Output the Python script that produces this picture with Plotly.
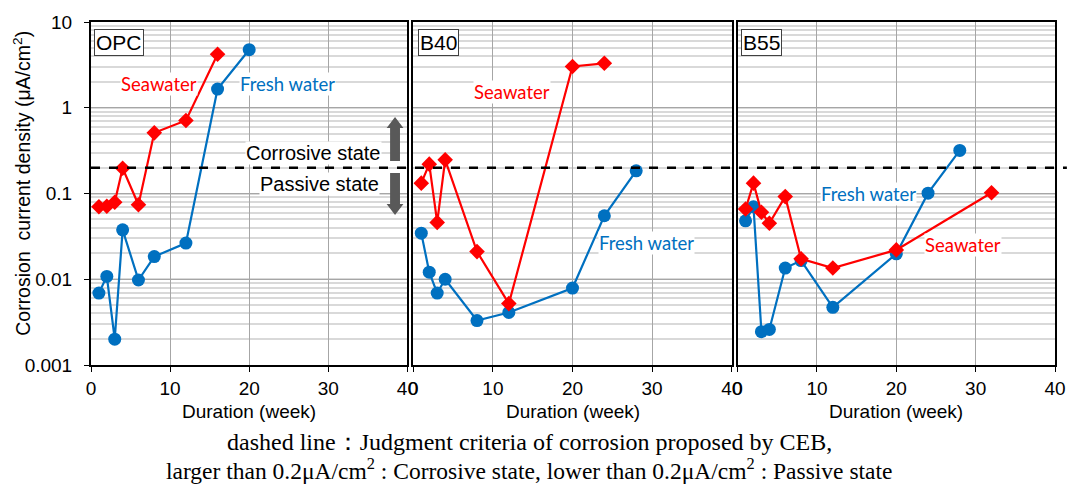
import math
import plotly.graph_objects as go
from plotly.subplots import make_subplots

# ---------------- data ----------------
panels = ["OPC", "B40", "B55"]

opc_sea_x = [1, 2, 3, 4, 6, 8, 12, 16]
opc_sea_y = [0.070, 0.071, 0.079, 0.197, 0.074, 0.51, 0.71, 4.2]
opc_fresh_x = [1, 2, 3, 4, 6, 8, 12, 16, 20]
opc_fresh_y = [0.0069, 0.0108, 0.0020, 0.0377, 0.0098, 0.0184, 0.0264, 1.65, 4.75]

b40_sea_x = [1, 2, 3, 4, 8, 12, 20, 24]
b40_sea_y = [0.132, 0.22, 0.046, 0.247, 0.021, 0.0052, 3.03, 3.3]
b40_fresh_x = [1, 2, 3, 4, 8, 12, 20, 24, 28]
b40_fresh_y = [0.0345, 0.0121, 0.0069, 0.0100, 0.0033, 0.0041, 0.0079, 0.055, 0.184]

b55_sea_x = [1, 2, 3, 4, 6, 8, 12, 20, 32]
b55_sea_y = [0.066, 0.132, 0.0605, 0.045, 0.092, 0.0173, 0.0135, 0.022, 0.102]
b55_fresh_x = [1, 2, 3, 4, 6, 8, 12, 20, 24, 28]
b55_fresh_y = [0.048, 0.070, 0.00245, 0.0026, 0.0135, 0.0165, 0.0047, 0.0198, 0.101, 0.318]

threshold = 0.2
x_ticks = [0, 10, 20, 30, 40]
y_tickvals = [0.001, 0.01, 0.1, 1, 10]
y_ticktext = ["0.001", "0.01", "0.1", "1", "10"]

SEA = "#FF0000"
FRESH = "#0070C0"

# ---------------- layout helpers ----------------
W, H = 1078, 484
L, R, T, B = 91, 12, 22, 119
PW = W - L - R
PH = H - T - B


def px(x):
    return (x - L) / PW


def py(y):
    return (H - B - y) / PH


fig = make_subplots(rows=1, cols=3, shared_yaxes=False, horizontal_spacing=0)

domains = [[px(91), px(411)], [px(417), px(739)], [px(745), px(1066)]]

series = [
    (opc_sea_x, opc_sea_y, opc_fresh_x, opc_fresh_y),
    (b40_sea_x, b40_sea_y, b40_fresh_x, b40_fresh_y),
    (b55_sea_x, b55_sea_y, b55_fresh_x, b55_fresh_y),
]

for i, (sx, sy, fx, fy) in enumerate(series):
    col = i + 1
    fig.add_trace(go.Scatter(x=fx, y=fy, mode="lines+markers",
                             line=dict(color=FRESH, width=2.2),
                             marker=dict(symbol="circle", size=13, color=FRESH),
                             showlegend=False), row=1, col=col)
    fig.add_trace(go.Scatter(x=sx, y=sy, mode="lines+markers",
                             line=dict(color=SEA, width=2.2),
                             marker=dict(symbol="diamond", size=12, color=SEA),
                             showlegend=False), row=1, col=col)

AX_FONT = "Liberation Sans, Arial"
for i in range(3):
    xa = "xaxis" if i == 0 else f"xaxis{i+1}"
    ya = "yaxis" if i == 0 else f"yaxis{i+1}"
    fig.layout[xa].update(
        domain=domains[i], range=[0, 40], tickvals=x_ticks,
        ticktext=[str(v) for v in x_ticks],
        showgrid=True, gridcolor="#A6A6A6", gridwidth=1.2,
        showline=True, linecolor="black", linewidth=2, mirror=True,
        ticks="outside", ticklen=5, tickcolor="black",
        tickfont=dict(family=AX_FONT, size=19, color="black"),
        zeroline=False,
    )
    fig.layout[ya].update(
        type="log", range=[-3, 1], tickvals=y_tickvals,
        ticktext=y_ticktext if i == 0 else [""] * 5,
        showticklabels=(i == 0),
        showgrid=True, gridcolor="#A6A6A6", gridwidth=1.2,
        minor=dict(dtick="D1", showgrid=True, gridcolor="#D9D9D9", gridwidth=1.5),
        showline=True, linecolor="black", linewidth=2, mirror=True,
        ticks="outside" if i == 0 else "", ticklen=5, tickcolor="black",
        ticklabelstandoff=8,
        tickfont=dict(family=AX_FONT, size=19, color="black"),
        zeroline=False,
    )

shapes = []
# threshold dashed line across all panels
ty = (math.log10(threshold) + 3) / 4
shapes.append(dict(type="line", xref="paper", yref="paper", x0=0, x1=px(1078), y0=ty, y1=ty,
                   line=dict(color="black", width=2.5, dash="dash"), layer="above"))


def arrow_up(cx, tip, base):
    return (f"M {px(cx-5)} {py(base)} L {px(cx+5)} {py(base)} L {px(cx+5)} {py(tip+11)} "
            f"L {px(cx+8.5)} {py(tip+11)} L {px(cx)} {py(tip)} L {px(cx-8.5)} {py(tip+11)} "
            f"L {px(cx-5)} {py(tip+11)} Z")


def arrow_down(cx, tip, base):
    return (f"M {px(cx-5)} {py(base)} L {px(cx+5)} {py(base)} L {px(cx+5)} {py(tip-11)} "
            f"L {px(cx+8.5)} {py(tip-11)} L {px(cx)} {py(tip)} L {px(cx-8.5)} {py(tip-11)} "
            f"L {px(cx-5)} {py(tip-11)} Z")


shapes.append(dict(type="path", xref="paper", yref="paper", path=arrow_up(398.5, 117, 161),
                   fillcolor="#595959", line=dict(width=0)))
shapes.append(dict(type="path", xref="paper", yref="paper", path=arrow_down(398.5, 215, 173),
                   fillcolor="#595959", line=dict(width=0)))
fig.update_layout(shapes=shapes)

ann = []
LBL = "Lato, Carlito, Calibri, sans-serif"


def text(x, y, s, color, size, family=LBL, bg="white", xanchor="center", yanchor="middle", **kw):
    ann.append(dict(xref="paper", yref="paper", x=px(x), y=py(y), text=s, showarrow=False,
                    font=dict(family=family, size=size, color=color), bgcolor=bg,
                    xanchor=xanchor, yanchor=yanchor, borderpad=0, **kw))


# panel name boxes
for name, x0 in zip(panels, [94, 422, 748]):
    ann.append(dict(xref="paper", yref="paper", x=px(x0), y=py(29), text=name, showarrow=False,
                    font=dict(family=AX_FONT, size=21, color="black"),
                    bgcolor="white", bordercolor="#404040", borderwidth=1, borderpad=1,
                    xanchor="left", yanchor="top"))

text(160, 84, "Seawater", SEA, 18.5)
text(290, 84, "Fresh water", FRESH, 18.5)
text(517, 92, "Seawater", SEA, 18.5)
text(653, 243, "Fresh water", FRESH, 18.5)
text(877, 194, "Fresh water", FRESH, 18.5)
text(973, 245, "Seawater", SEA, 18.5)

text(316, 153, "Corrosive state", "black", 20, family=AX_FONT)
text(322, 184, "Passive state", "black", 20, family=AX_FONT)

# axis titles
for cx in [251, 578, 905.5]:
    text(cx, 411, "Duration (week)", "black", 19, family=AX_FONT, bg="rgba(0,0,0,0)")
ann.append(dict(xref="paper", yref="paper", x=px(21), y=py(183), textangle=-90,
                text="Corrosion  current density (μA/cm<sup>2</sup>)", showarrow=False,
                font=dict(family=AX_FONT, size=19.5, color="black"),
                xanchor="center", yanchor="middle"))

# caption
SERIF = "Liberation Serif, Times New Roman, serif"
text(534, 442, "dashed line：Judgment criteria of corrosion proposed by CEB,", "black", 24,
     family=SERIF, bg="rgba(0,0,0,0)")
text(534.5, 468.5, "larger than 0.2μA/cm<sup>2</sup> : Corrosive state, lower than 0.2μA/cm<sup>2</sup> : Passive state",
     "black", 23.5, family=SERIF, bg="rgba(0,0,0,0)")

fig.update_layout(
    annotations=ann,
    width=W, height=H,
    margin=dict(l=L, r=R, t=T, b=B),
    paper_bgcolor="white", plot_bgcolor="white",
    showlegend=False,
)

fig.write_html("out.html")
